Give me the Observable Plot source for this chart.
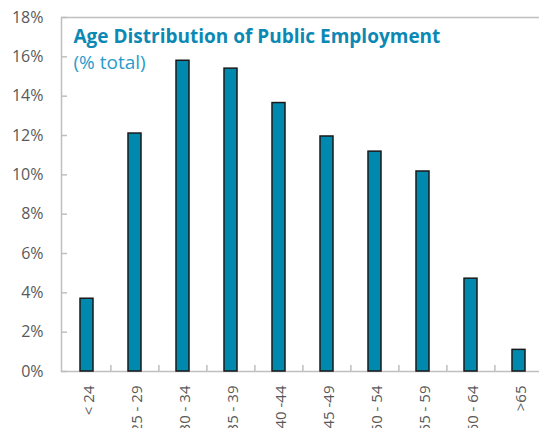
<!DOCTYPE html>
<html>
<head>
<meta charset="utf-8">
<script src="https://cdn.jsdelivr.net/npm/d3@7"></script>
<script src="https://cdn.jsdelivr.net/npm/@observablehq/plot@0.6"></script>
<style>
  html, body { margin: 0; padding: 0; background: #fff; overflow: hidden; }
  #chart svg { overflow: hidden; display: block; }
</style>
</head>
<body>
<div id="chart"></div>
<script>
const ageGroups = ["< 24", "25 - 29", "30 - 34", "35 - 39", "40 -44", "45 -49", "50 - 54", "55 - 59", "60 - 64", ">65"];
const shares = [3.7, 12.1, 15.8, 15.4, 13.65, 11.95, 11.18, 10.17, 4.72, 1.1];
const yTicks = [0, 2, 4, 6, 8, 10, 12, 14, 16, 18];
const title = "Age Distribution of Public Employment";
const subtitle = "(% total)";

const data = ageGroups.map((g, i) => ({group: g, value: shares[i]}));

const W = 539, H = 428;
const mL = 61, mR = -4, mT = 17, mB = 57;
const step = (W - mR - mL) / ageGroups.length;
const gray = "#bfbfbf";
const labelColor = "#595959";
const font = "'Open Sans', 'Noto Sans', sans-serif";

const chart = Plot.plot({
  width: W,
  height: H,
  marginLeft: mL,
  marginRight: mR,
  marginTop: mT,
  marginBottom: mB,
  style: {fontFamily: font, fontSize: "16px", color: labelColor, background: "#fff"},
  x: {domain: ageGroups, paddingInner: 0.73, paddingOuter: 0.365, label: null},
  y: {domain: [0, 18], label: null},
  marks: [
    Plot.frame({stroke: gray, strokeWidth: 1.5}),
    // y ticks (inside)
    Plot.axisY({ticks: yTicks, tickSize: 6, dx: 6, tickFormat: () => "", stroke: gray, strokeWidth: 1.5}),
    // y labels
    Plot.axisY({ticks: yTicks, tickSize: 0, tickPadding: 18, tickFormat: d => d + "%", fill: labelColor, fontSize: 16}),
    // x ticks at category boundaries (pointing up)
    Plot.axisX({ticks: ageGroups.slice(1), tickSize: 6, dy: -6, dx: -step / 2, tickFormat: () => "", stroke: gray, strokeWidth: 1.5}),
    // x labels rotated
    Plot.axisX({tickSize: 0, tickPadding: 14, tickRotate: -90, fill: labelColor, fontSize: 15, dx: 2}),
    Plot.barY(data, {x: "group", y: "value", fill: "#0089ae", stroke: "#1a1a1a", strokeWidth: 1.5}),
    Plot.text([title], {text: d => d, frameAnchor: "top-left", dx: 12, dy: 12, textAnchor: "start", lineAnchor: "top", fill: "#0c88b4", fontSize: 19, fontWeight: "bold", fontFamily: font, letterSpacing: "0.35px"}),
    Plot.text([subtitle], {text: d => d, frameAnchor: "top-left", dx: 12, dy: 38, textAnchor: "start", lineAnchor: "top", fill: "#2a9ccb", fontSize: 19, fontFamily: font})
  ]
});
document.getElementById("chart").appendChild(chart);
</script>
</body>
</html>
